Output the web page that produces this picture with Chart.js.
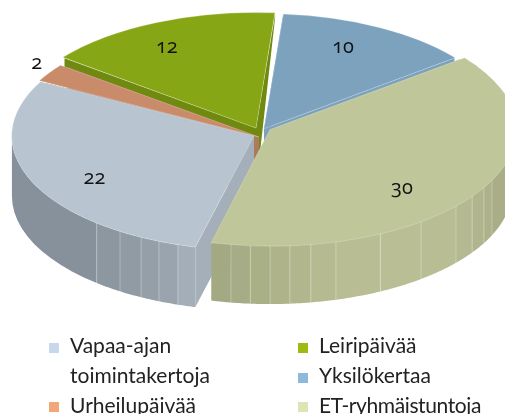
<!DOCTYPE html>
<html lang="fi">
<head>
<meta charset="UTF-8">
<title>Pie</title>
<script src="https://cdn.jsdelivr.net/npm/chart.js"></script>
<style>
  html, body { margin:0; padding:0; background:#fff; overflow:hidden; }
  #wrap { position:relative; width:505px; height:414px; overflow:hidden; }
  #wrap canvas { position:absolute; left:0; top:0; }
  .val { position:absolute; transform:translate(-50%,-50%); font:20px 'Open Sans',sans-serif; font-variant-numeric:oldstyle-nums; color:#111; }
  .key { position:absolute; width:10px; height:10px; }
  .txt { position:absolute; font:21px Lato,sans-serif; color:#222; white-space:nowrap; line-height:24px; }
</style>
</head>
<body>
<div id="wrap">
  <canvas id="pie" width="505" height="414"></canvas>
</div>
<script>
const categories = ['Vapaa-ajan toimintakertoja', 'Urheilupäivää', 'Leiripäivää', 'Yksilökertaa', 'ET-ryhmäistuntoja'];
const values = [22, 2, 12, 10, 30];

const topColors = ['#b8c4d0', '#c98b69', '#87a615', '#7ca2be', '#bec69a'];
const sideColors = ['#a5afba', '#ab7b5c', '#6f8a0f', '#7ca2be', '#a9ae87'];
const keyColors = ['#c6d9ec', '#f0a77a', '#9dbb10', '#8db9dc', '#dde5b5'];
const explode = [31, 38, 59, 17, 48];
const sliceShift = [[-1, 3], [5, 8], [0, 3], [0, -1], [-2, -5]];
const drawOrder = [2, 3, 1, 0, 4];

// shape of the fake 3d
const centerY = 131.5, tilt = 0.473, maxDrop = 60;
function dropAt(y) { return Math.min(maxDrop, 3 + 57 * Math.max(0, y - 13) / 114); }

// outer wall facets, degrees clockwise from the top
const facetAngles = {
  0: [194, 198.3, 203.1, 207.8, 213.6, 220.5, 270],
  4: [90, 113.5, 117.9, 123.4, 129.8, 141.4, 152.9, 164.2, 170.3, 175.3, 180, 184.7, 189.3, 194]
};
const facetShades = {
  0: ['#a3aeb8', '#9aa4ae', '#959fa8', '#909ba3', '#8c979f', '#86919b'],
  4: ['#a9ae87', '#adb28b', '#b0b58e', '#b4b991', '#b8bd94', '#b9be94', '#b8bd93', '#b5ba91', '#b1b68d', '#aeb38a', '#aab085', '#a6ac85', '#a3a983']
};

// value labels: how far out along the slice, then a small nudge
const labelReach = [0.73, 1.07, 0.9, 0.7, 0.62];
const labelNudge = [[2, 6], [-5, -9], [-1, 11], [-1, -13], [6, 18]];

const wrap = document.getElementById('wrap');
const valEls = values.map(v => {
  const d = document.createElement('div');
  d.className = 'val';
  d.textContent = v;
  wrap.appendChild(d);
  return d;
});

function spot(arc, i, angle, r) {
  const half = (arc.startAngle + arc.endAngle) / 2, off = arc.options.offset / 4;
  return {
    x: sliceShift[i][0] + arc.x + off * Math.cos(half) + r * Math.cos(angle),
    y: sliceShift[i][1] + centerY + tilt * (off * Math.sin(half) + r * Math.sin(angle))
  };
}

function fillPoly(ctx, top, color) {
  ctx.beginPath();
  top.forEach((p, i) => i ? ctx.lineTo(p.x, p.y) : ctx.moveTo(p.x, p.y));
  for (let i = top.length - 1; i >= 0; i--) ctx.lineTo(top[i].x, top[i].y + dropAt(top[i].y));
  ctx.closePath();
  ctx.fillStyle = color;
  ctx.fill();
}

function drawWalls(ctx, arc, i) {
  const r = arc.outerRadius;
  [arc.startAngle, arc.endAngle].forEach(a => {
    fillPoly(ctx, [spot(arc, i, a, 0), spot(arc, i, a, r)], sideColors[i]);
  });
  const angles = facetAngles[i];
  if (!angles) return;
  for (let k = 0; k < angles.length - 1; k++) {
    const a0 = (angles[k] - 90) * Math.PI / 180, a1 = (angles[k + 1] - 90) * Math.PI / 180;
    const pts = [];
    for (let t = 0; t <= 12; t++) pts.push(spot(arc, i, a0 + (a1 - a0) * t / 12, r));
    fillPoly(ctx, pts, facetShades[i][k]);
    if (k > 0) {
      const p = pts[0];
      ctx.beginPath();
      ctx.moveTo(p.x, p.y);
      ctx.lineTo(p.x, p.y + dropAt(p.y));
      ctx.strokeStyle = 'rgba(255,255,255,0.35)';
      ctx.lineWidth = 0.8;
      ctx.stroke();
    }
  }
}

const pie3d = {
  id: 'pie3d',
  beforeDatasetDraw(chart, args) {
    const ctx = chart.ctx, arcs = chart.getDatasetMeta(args.index).data;
    drawOrder.forEach(i => {
      const arc = arcs[i];
      drawWalls(ctx, arc, i);
      ctx.save();
      ctx.translate(sliceShift[i][0], centerY + sliceShift[i][1]);
      ctx.scale(1, tilt);
      ctx.translate(0, -arc.y);
      arc.draw(ctx);
      ctx.restore();
    });
    arcs.forEach((arc, i) => {
      const mid = (arc.startAngle + arc.endAngle) / 2;
      const p = spot(arc, i, mid, arc.outerRadius * labelReach[i]);
      valEls[i].style.left = (p.x + labelNudge[i][0]) + 'px';
      valEls[i].style.top = (p.y + labelNudge[i][1]) + 'px';
    });
    return false;
  }
};

new Chart(document.getElementById('pie'), {
  type: 'pie',
  data: {
    labels: categories,
    datasets: [{
      data: values,
      backgroundColor: topColors,
      offset: explode,
      borderWidth: 0.8,
      borderColor: 'rgba(255,255,255,0.4)'
    }]
  },
  options: {
    responsive: false,
    animation: false,
    rotation: 194,
    radius: 242,
    layout: { padding: { left: 19 } },
    events: [],
    plugins: { legend: { display: false }, tooltip: { enabled: false } }
  },
  plugins: [pie3d]
});

// legend, the long name wraps in the picture
const legendRows = [
  { key: 0, keyY: 343, x: 49, tx: 70, y: 333, text: 'Vapaa-ajan' },
  { key: null, x: 49, tx: 70, y: 363, text: 'toimintakertoja' },
  { key: 1, keyY: 402, x: 49, tx: 70, y: 393, text: 'Urheilupäivää' },
  { key: 2, keyY: 343, x: 298, tx: 319, y: 333, text: 'Leiripäivää' },
  { key: 3, keyY: 373, x: 298, tx: 319, y: 363, text: 'Yksilökertaa' },
  { key: 4, keyY: 402, x: 298, tx: 319, y: 393, text: 'ET-ryhmäistuntoja', squeeze: -0.4 }
];
legendRows.forEach(r => {
  if (r.key !== null) {
    const k = document.createElement('div');
    k.className = 'key';
    k.style.cssText = `left:${r.x}px;top:${r.keyY}px;background:${keyColors[r.key]}`;
    wrap.appendChild(k);
  }
  const t = document.createElement('div');
  t.className = 'txt';
  t.style.cssText = `left:${r.tx}px;top:${r.y}px;letter-spacing:${r.squeeze || 0}px`;
  t.textContent = r.text;
  wrap.appendChild(t);
});
</script>
</body>
</html>
